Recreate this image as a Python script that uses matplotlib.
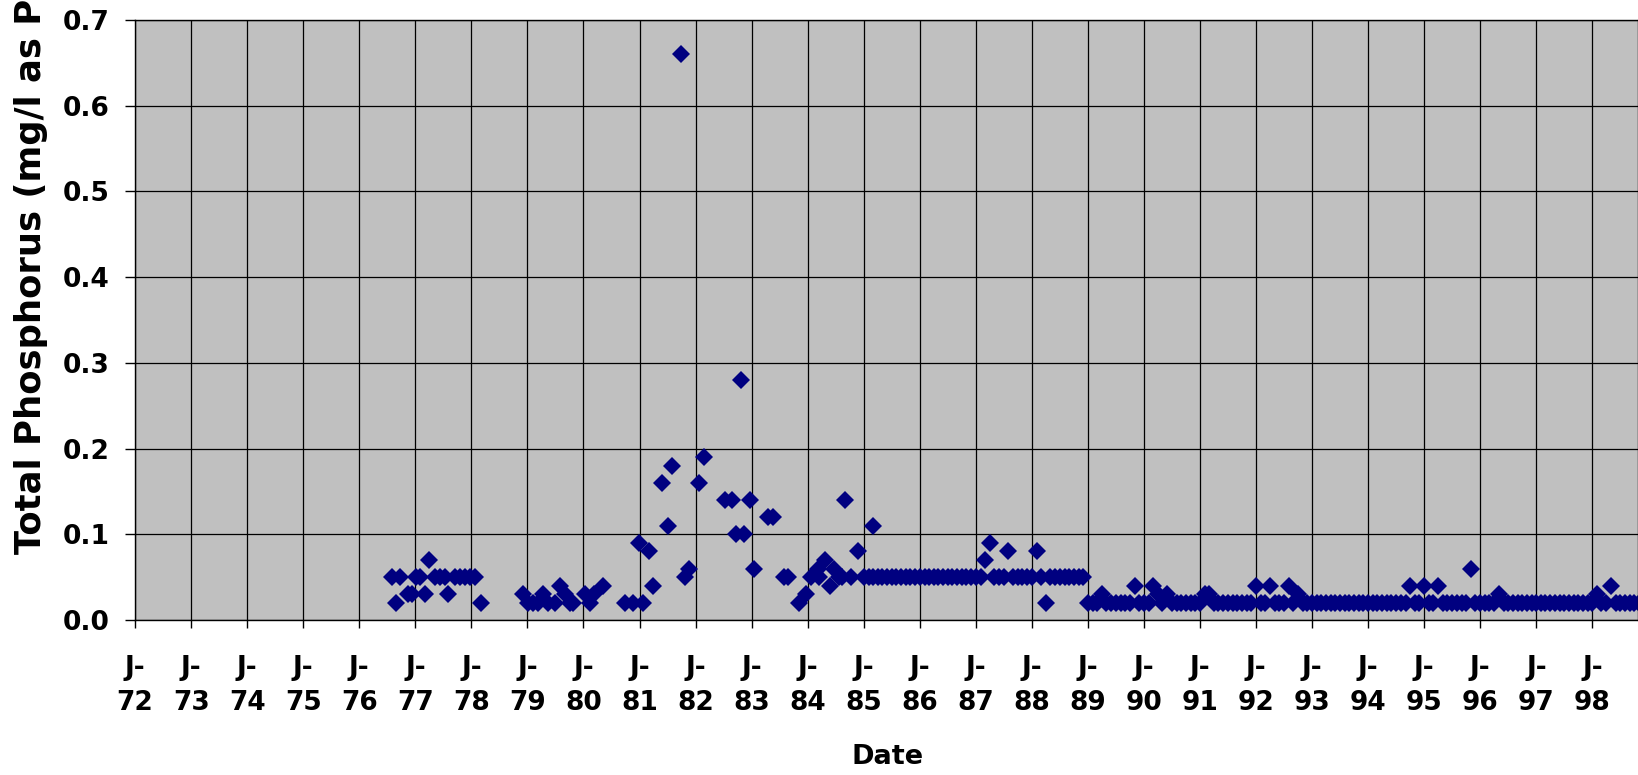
import pandas as pd
import matplotlib
matplotlib.use('Agg')
import matplotlib.pyplot as plt
import matplotlib.dates as mdates

plt.rcParams['font.family'] = ['DejaVu Sans']

# irregular samples 1976-1985
early_dates = ['1976-08-01', '1976-08-29', '1976-09-23', '1976-11-17', '1976-12-09',
               '1977-01-03', '1977-01-30', '1977-03-07', '1977-04-01', '1977-05-11',
               '1977-06-10', '1977-07-12', '1977-08-03', '1977-09-16', '1977-10-19',
               '1977-11-21', '1977-12-24', '1978-01-26', '1978-03-03',
               '1978-12-05', '1979-01-07', '1979-02-09', '1979-03-12', '1979-04-12',
               '1979-05-15', '1979-06-28', '1979-07-31', '1979-09-01', '1979-10-05',
               '1979-10-28', '1980-01-12', '1980-02-10', '1980-03-08', '1980-05-05',
               '1980-09-27', '1980-11-20', '1980-12-28', '1981-01-26', '1981-03-03',
               '1981-03-29', '1981-05-30', '1981-07-05', '1981-07-31', '1981-09-26',
               '1981-10-27', '1981-11-18', '1982-01-26', '1982-02-28', '1982-07-13',
               '1982-08-29', '1982-09-24', '1982-10-25', '1982-11-14', '1982-12-20',
               '1983-01-19', '1983-04-16', '1983-05-23', '1983-07-31', '1983-08-29',
               '1983-11-03', '1983-12-20', '1984-01-26', '1984-03-07', '1984-03-18',
               '1984-04-23', '1984-05-26', '1984-06-21', '1984-07-24', '1984-08-12',
               '1984-08-29', '1984-10-09', '1984-11-22', '1985-02-28']
early_tp = [0.05, 0.02, 0.05, 0.03, 0.03,
            0.05, 0.05, 0.03, 0.07, 0.05,
            0.05, 0.05, 0.03, 0.05, 0.05,
            0.05, 0.05, 0.05, 0.02,
            0.03, 0.02, 0.02, 0.02, 0.03,
            0.02, 0.02, 0.04, 0.03, 0.02,
            0.02, 0.03, 0.02, 0.03, 0.04,
            0.02, 0.02, 0.09, 0.02, 0.08,
            0.04, 0.16, 0.11, 0.18, 0.66,
            0.05, 0.06, 0.16, 0.19, 0.14,
            0.14, 0.10, 0.28, 0.10, 0.14,
            0.06, 0.12, 0.12, 0.05, 0.05,
            0.02, 0.03, 0.05, 0.06, 0.05,
            0.07, 0.04, 0.06, 0.05, 0.05,
            0.14, 0.05, 0.08, 0.11]

# monthly samples 1985-1988
mid_dates = ['1985-01', '1985-02', '1985-03', '1985-04', '1985-05', '1985-06',
             '1985-07', '1985-08', '1985-09', '1985-10', '1985-11', '1985-12',
             '1986-01', '1986-02', '1986-03', '1986-04', '1986-05', '1986-06',
             '1986-07', '1986-08', '1986-09', '1986-10', '1986-11', '1986-12',
             '1987-01', '1987-02', '1987-03', '1987-04', '1987-05', '1987-06',
             '1987-07', '1987-08', '1987-09', '1987-10', '1987-11', '1987-12',
             '1988-01', '1988-02', '1988-03', '1988-04', '1988-05', '1988-06',
             '1988-07', '1988-08', '1988-09', '1988-10', '1988-11', '1988-12']
mid_tp = [0.05, 0.05, 0.05, 0.05, 0.05, 0.05, 0.05, 0.05, 0.05, 0.05, 0.05, 0.05,
          0.05, 0.05, 0.05, 0.05, 0.05, 0.05, 0.05, 0.05, 0.05, 0.05, 0.05, 0.05,
          0.05, 0.05, 0.07, 0.09, 0.05, 0.05, 0.05, 0.08, 0.05, 0.05, 0.05, 0.05,
          0.05, 0.08, 0.05, 0.02, 0.05, 0.05, 0.05, 0.05, 0.05, 0.05, 0.05, 0.05]

# monthly samples 1989-1998
late_dates = ['1989-01', '1989-02', '1989-03', '1989-04', '1989-05', '1989-06',
              '1989-07', '1989-08', '1989-09', '1989-10', '1989-11', '1989-12',
              '1990-01', '1990-02', '1990-03', '1990-04', '1990-05', '1990-06',
              '1990-07', '1990-08', '1990-09', '1990-10', '1990-11', '1990-12',
              '1991-01', '1991-02', '1991-03', '1991-04', '1991-05', '1991-06',
              '1991-07', '1991-08', '1991-09', '1991-10', '1991-11', '1991-12',
              '1992-01', '1992-02', '1992-03', '1992-04', '1992-05', '1992-06',
              '1992-07', '1992-08', '1992-09', '1992-10', '1992-11', '1992-12',
              '1993-01', '1993-02', '1993-03', '1993-04', '1993-05', '1993-06',
              '1993-07', '1993-08', '1993-09', '1993-10', '1993-11', '1993-12',
              '1994-01', '1994-02', '1994-03', '1994-04', '1994-05', '1994-06',
              '1994-07', '1994-08', '1994-09', '1994-10', '1994-11', '1994-12',
              '1995-01', '1995-02', '1995-03', '1995-04', '1995-05', '1995-06',
              '1995-07', '1995-08', '1995-09', '1995-10', '1995-11', '1995-12',
              '1996-01', '1996-02', '1996-03', '1996-04', '1996-05', '1996-06',
              '1996-07', '1996-08', '1996-09', '1996-10', '1996-11', '1996-12',
              '1997-01', '1997-02', '1997-03', '1997-04', '1997-05', '1997-06',
              '1997-07', '1997-08', '1997-09', '1997-10', '1997-11', '1997-12',
              '1998-01', '1998-02', '1998-03', '1998-04', '1998-05', '1998-06',
              '1998-07', '1998-08', '1998-09', '1998-10', '1998-11']
late_tp = [0.02, 0.02, 0.02, 0.03, 0.02, 0.02, 0.02, 0.02, 0.02, 0.02, 0.04, 0.02,
           0.02, 0.02, 0.04, 0.03, 0.02, 0.03, 0.02, 0.02, 0.02, 0.02, 0.02, 0.02,
           0.02, 0.03, 0.03, 0.02, 0.02, 0.02, 0.02, 0.02, 0.02, 0.02, 0.02, 0.02,
           0.04, 0.02, 0.02, 0.04, 0.02, 0.02, 0.02, 0.04, 0.02, 0.03, 0.02, 0.02,
           0.02, 0.02, 0.02, 0.02, 0.02, 0.02, 0.02, 0.02, 0.02, 0.02, 0.02, 0.02,
           0.02, 0.02, 0.02, 0.02, 0.02, 0.02, 0.02, 0.02, 0.02, 0.04, 0.02, 0.02,
           0.04, 0.02, 0.02, 0.04, 0.02, 0.02, 0.02, 0.02, 0.02, 0.02, 0.06, 0.02,
           0.02, 0.02, 0.02, 0.02, 0.03, 0.02, 0.02, 0.02, 0.02, 0.02, 0.02, 0.02,
           0.02, 0.02, 0.02, 0.02, 0.02, 0.02, 0.02, 0.02, 0.02, 0.02, 0.02, 0.02,
           0.02, 0.03, 0.02, 0.02, 0.04, 0.02, 0.02, 0.02, 0.02, 0.02, 0.02]

dates = pd.to_datetime(early_dates + mid_dates + late_dates, format='mixed')
tp = early_tp + mid_tp + late_tp

fig = plt.figure(figsize=(16.38, 7.75), dpi=100)
ax = fig.add_axes([135 / 1638, 1 - 620 / 775, 1 - 135 / 1638, 600 / 775])
ax.set_facecolor('#c0c0c0')

ax.plot(dates, tp, 'D', color='#000080', markersize=8.8, markeredgewidth=0)

ax.set_ylim(0, 0.7)
ax.set_yticks([0.0, 0.1, 0.2, 0.3, 0.4, 0.5, 0.6, 0.7])
ax.yaxis.set_major_formatter(plt.FormatStrFormatter('%.1f'))
ax.set_xlim(pd.Timestamp('1972-01-01'), pd.Timestamp('1998-10-25'))
ax.xaxis.set_major_locator(mdates.YearLocator())
ax.xaxis.set_major_formatter(plt.FuncFormatter(
    lambda v, pos: 'J-\n' + mdates.num2date(v).strftime('%y')))

ax.grid(True, color='black', linewidth=0.9)
ax.set_axisbelow(True)
for s in ax.spines.values():
    s.set_color('black')
    s.set_linewidth(1)

ax.tick_params(axis='y', length=7, width=1, pad=11, labelsize=19)
ax.tick_params(axis='x', length=6, width=1, pad=19, labelsize=19)
for lab in ax.get_xticklabels() + ax.get_yticklabels():
    lab.set_fontweight('bold')
for lab in ax.get_xticklabels():
    lab.set_linespacing(1.45)

fig.text(888 / 1638, 1 - 757 / 775, 'Date', ha='center', va='center',
         fontsize=19.5, fontweight='bold')
fig.text(31 / 1638, 1 - 554 / 775, 'Total Phosphorus (mg/l as P)', rotation=90,
         ha='center', va='bottom', fontsize=25.5, fontweight='bold')

fig.savefig('out.png', dpi=100)
